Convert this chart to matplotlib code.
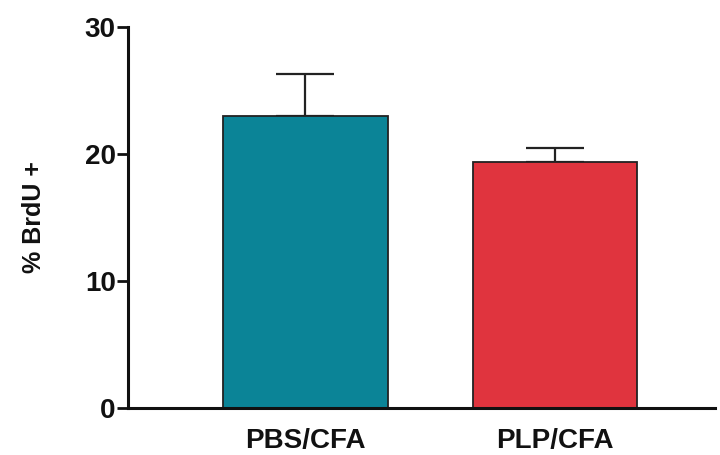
import matplotlib.pyplot as plt

groups = ['PBS/CFA', 'PLP/CFA']
brdu_mean = [23.0, 19.4]
brdu_sem = [3.3, 1.1]
bar_colors = ['#0b8497', '#e0343e']

plt.rcParams['font.family'] = ['Liberation Sans', 'DejaVu Sans']
plt.rcParams['font.weight'] = 'bold'

fig = plt.figure(figsize=(7.2, 4.55), dpi=100)
ax = fig.add_axes([0.178, 0.103, 0.815, 0.838])

x = range(len(groups))
ax.bar(x, brdu_mean, width=0.66, color=bar_colors, edgecolor='#222222', linewidth=1.3, zorder=2)
ax.errorbar(x, brdu_mean, yerr=[[0, 0], brdu_sem], fmt='none', ecolor='#222222',
            elinewidth=1.6, capsize=21, capthick=1.6, zorder=1)

ax.set_xlim(-0.708, 1.64)
ax.set_ylim(0, 30)
ax.set_yticks([0, 10, 20, 30])
ax.set_xticks(list(x))
ax.set_xticklabels(groups)

for s in ['top', 'right']:
    ax.spines[s].set_visible(False)
for s in ['left', 'bottom']:
    ax.spines[s].set_linewidth(2.2)
    ax.spines[s].set_color('#111111')

ax.tick_params(axis='y', length=8, width=2, labelsize=20, pad=1, colors='#111111')
ax.tick_params(axis='x', length=0, labelsize=20, pad=14, colors='#111111')
ax.set_ylabel('% BrdU +', fontsize=18, fontweight='bold', labelpad=28, color='#111111')

fig.savefig('out.png', dpi=100)
